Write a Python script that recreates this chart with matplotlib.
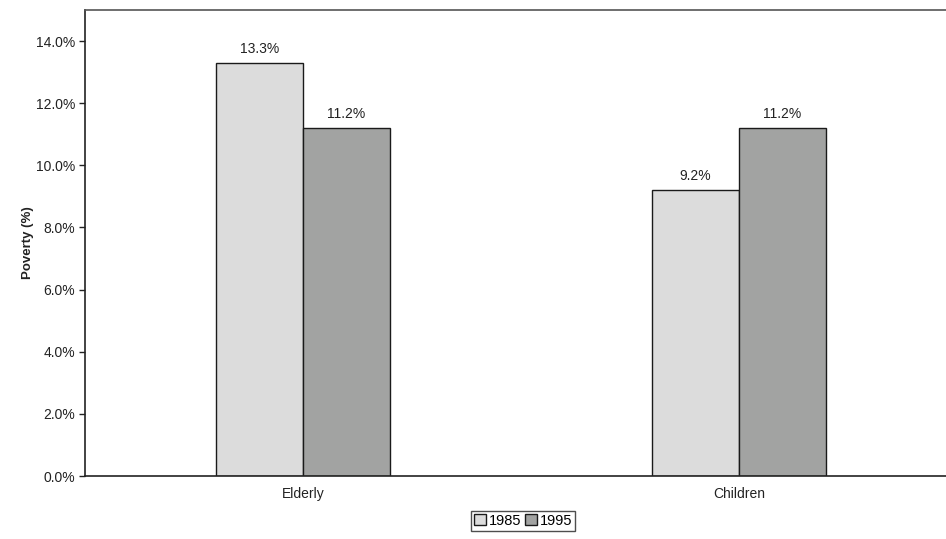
import matplotlib.pyplot as plt
import numpy as np

plt.rcParams["font.family"] = ["Liberation Sans", "DejaVu Sans"]

# poverty rates by group, two survey years
groups = ["Elderly", "Children"]
years = ["1985", "1995"]
rate_1985 = [13.3, 9.2]
rate_1995 = [11.2, 11.2]

colors = ["#dcdcdc", "#a2a3a2"]

fig = plt.figure(figsize=(9.46, 5.39), dpi=100)
# plot area runs a little past the right edge of the page
ax = fig.add_axes([85 / 946, 1 - 476 / 539, 872 / 946, 466 / 539])

x = np.arange(len(groups))
w = 0.2
for i, (vals, col, yr) in enumerate(zip([rate_1985, rate_1995], colors, years)):
    pos = x + (i - 0.5) * w
    ax.bar(pos, np.array(vals) / 100, width=w, color=col,
           edgecolor="#1a1a1a", linewidth=1.0, label=yr)
    for p, v in zip(pos, vals):
        ax.text(p, v / 100 + 0.0022, f"{v:.1f}%", ha="center", va="bottom",
                fontsize=10, color="#222222")

ax.set_xlim(-0.5, 1.5)
ax.set_ylim(0, 0.15)
yt = np.arange(0, 0.141, 0.02)
ax.set_yticks(yt)
ax.set_yticklabels([f"{t * 100:.1f}%" for t in yt])
ax.set_xticks(x)
ax.set_xticklabels(groups)
ax.tick_params(axis="y", length=4, width=1, labelsize=10, colors="#222222", pad=3)
ax.tick_params(axis="x", length=0, labelsize=10, colors="#222222", pad=8)

for s in ["left", "bottom"]:
    ax.spines[s].set_color("#222222")
    ax.spines[s].set_linewidth(1.2)
ax.spines["top"].set_color("#555555")
ax.spines["top"].set_linewidth(1.2)
ax.spines["right"].set_visible(False)

ax.set_ylabel("Poverty (%)", fontsize=9.5, fontweight="bold", color="#222222")
ax.yaxis.set_label_coords(-0.058, 0.5)

leg = fig.legend(loc="upper center", bbox_to_anchor=(0.553, 0.052), ncol=2,
                 fontsize=10.5, frameon=True, fancybox=False, handlelength=0.8,
                 handleheight=0.8, handletextpad=0.2, columnspacing=0.3,
                 borderpad=0.2, borderaxespad=0)
leg.get_frame().set_edgecolor("#222222")
leg.get_frame().set_linewidth(1.0)

fig.savefig("out.png", dpi=100)
